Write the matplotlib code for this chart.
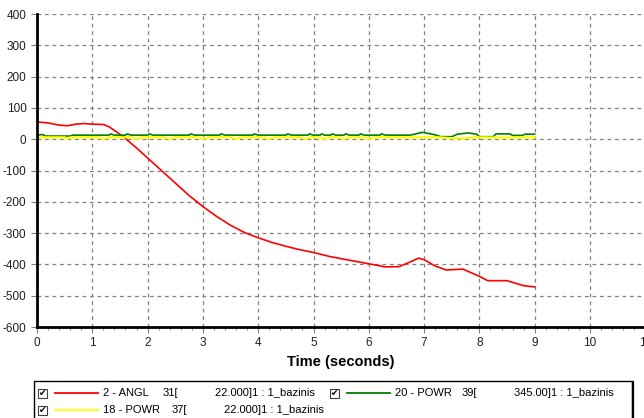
import matplotlib
matplotlib.use("Agg")
import matplotlib.pyplot as plt
from matplotlib.patches import Rectangle
from matplotlib.lines import Line2D

plt.rcParams['font.family'] = ['Liberation Sans', 'DejaVu Sans']
plt.rcParams['axes.unicode_minus'] = False

# 2 - ANGL
t_angl = [0, 0.2, 0.4, 0.55, 0.7, 0.85, 1.0, 1.2, 1.3, 1.45, 1.6, 1.8, 2.0, 2.25, 2.5, 2.75, 3.0, 3.25,
          3.5, 3.75, 4.0, 4.25, 4.5, 4.75, 5.0, 5.3, 5.6, 6.0, 6.3, 6.55, 6.75, 6.9, 7.0, 7.2, 7.4, 7.7,
          8.0, 8.15, 8.5, 8.8, 9.0]
v_angl = [55, 52, 45, 43, 48, 50, 48, 47, 40, 22, 2, -28, -60, -100, -140, -180, -215, -247,
          -275, -298, -315, -330, -342, -353, -362, -375, -385, -398, -408, -407, -392, -380, -385, -405, -418, -415,
          -438, -452, -452, -468, -472]

# 20 - POWR
t_pw20 = [0, 0.1, 0.15, 0.6, 0.65, 1.3, 1.33, 1.4, 1.6, 1.63, 1.7, 2.0, 2.03, 2.1, 2.75, 2.78, 2.85,
          3.3, 3.33, 3.4, 3.9, 3.93, 4.0, 4.5, 4.53, 4.6, 4.9, 4.93, 5.0, 5.12, 5.15, 5.2, 5.31, 5.34, 5.4,
          5.55, 5.58, 5.65, 5.82, 5.85, 5.92, 6.2, 6.23, 6.3, 6.75, 6.97, 7.2, 7.3, 7.5, 7.6, 7.8, 7.95,
          8.0, 8.25, 8.3, 8.55, 8.6, 8.78, 8.82, 9.0]
v_pw20 = [13, 15, 10, 10, 13, 13, 17, 13, 13, 17, 13, 13, 17, 13, 13, 17, 13,
          13, 17, 13, 13, 17, 13, 13, 17, 13, 13, 17, 13, 13, 17, 13, 13, 17, 13,
          13, 17, 13, 13, 17, 13, 13, 17, 13, 13, 22, 14, 8, 8, 16, 20, 16,
          8, 8, 17, 17, 12, 12, 16, 16]

# 18 - POWR
t_pw18 = [0, 0.5, 0.55, 0.6, 1.1, 1.2, 1.3, 1.7, 1.8, 1.9, 2.3, 2.4, 2.5, 2.9, 3.0, 3.1,
          3.5, 3.6, 3.7, 4.1, 4.2, 4.3, 4.75, 4.85, 4.95, 5.1, 5.2, 5.3, 5.45, 5.55, 5.65,
          5.9, 6.0, 6.1, 6.3, 6.6, 7.3, 7.5, 7.7, 7.9, 8.1, 8.4, 9.0]
v_pw18 = [6, 6, 1, 6, 6, 1, 6, 6, 1, 6, 6, 1, 6, 6, 1, 6,
          6, 1, 6, 6, 1, 6, 6, 1, 6, 6, 1, 6, 6, 1, 6,
          6, 1, 6, 6, 6, 6, 3, 3, 6, 6, 5, 6]

xticks = list(range(0, 12))
yticks = list(range(-600, 401, 100))

# colour, name, channel, scale
legend_rows = [
    ("red", "2 - ANGL", "31[", "22.000]1 : 1_bazinis"),
    ("green", "20 - POWR", "39[", "345.00]1 : 1_bazinis"),
    ("yellow", "18 - POWR", "37[", "22.000]1 : 1_bazinis"),
]

fig = plt.figure(figsize=(6.44, 4.18), dpi=100)
W, H = 644, 418
ax = fig.add_axes([37 / W, (H - 327) / H, (11 * 55.3) / W, (327 - 14) / H])

ax.plot(t_angl, v_angl, color="#ff0000", lw=1.2)
ax.plot(t_pw20, v_pw20, color="#008000", lw=1.2)
ax.plot(t_pw18, v_pw18, color="#ffff00", lw=1.6)

ax.set_xlim(0, 11)
ax.set_ylim(-600, 400)
ax.set_xticks(xticks)
ax.set_xticks([i * 0.2 for i in range(56)], minor=True)
ax.set_yticks(yticks)
ax.grid(True, which="major", color="#808080", linestyle=(0, (3, 3)), lw=0.9)
ax.set_axisbelow(True)
for s in ["top", "right"]:
    ax.spines[s].set_visible(False)
ax.spines["left"].set_linewidth(2)
ax.spines["bottom"].set_linewidth(2)
ax.tick_params(axis="both", which="major", labelsize=8.5, length=4, direction="out",
               color="#808080", labelcolor="#202020")
ax.tick_params(axis="x", which="minor", length=2, direction="out", color="#808080")
ax.set_xlabel("Time (seconds)", fontsize=10.5, fontweight="bold", labelpad=4)

# legend panel
lax = fig.add_axes([0, 0, 1, 1], facecolor="none")
lax.set_xlim(0, W)
lax.set_ylim(H, 0)
lax.axis("off")
lax.add_patch(Rectangle((34, 381), 598, 60, fill=False, ec="black", lw=1.0))
lax.add_line(Line2D([633, 633], [382, 418], color="black", lw=1.6))
# x of checkbox, y of row, offsets of channel and scale text from the name
positions = [(38, 393, 60, 112), (330, 393, 67, 119), (38, 410, 69, 121)]
for (color, name, chan, tail), (x0, y0, dc, dt) in zip(legend_rows, positions):
    lax.add_patch(Rectangle((x0, y0 - 4.5), 9, 9, fill=False, ec="#404040", lw=0.8))
    lax.text(x0 + 4.5, y0 + 0.3, "\u2714", fontsize=6.5, ha="center", va="center",
             family="DejaVu Sans", fontweight="bold")
    lax.add_line(Line2D([x0 + 17, x0 + 60], [y0, y0], color=color, lw=1.3))
    lax.text(x0 + 65, y0, name, fontsize=8, va="center")
    lax.text(x0 + 65 + dc, y0, chan, fontsize=8, va="center")
    lax.text(x0 + 65 + dt, y0, tail, fontsize=8, va="center")

fig.savefig("out.png", dpi=100)
